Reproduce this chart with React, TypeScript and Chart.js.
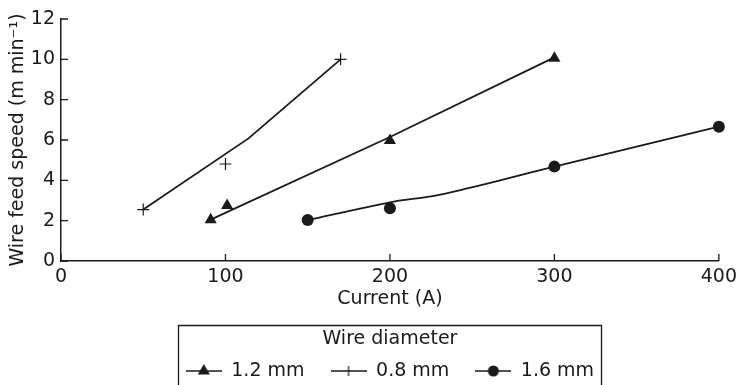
import React, { useEffect, useRef } from 'react';
import { Chart, registerables } from 'chart.js';

Chart.register(...registerables);

// 0.8 mm wire
const w08MarkerX = [50, 100, 170];
const w08MarkerY = [2.55, 4.81, 10.0];
const w08LineX = [50, 114, 170];
const w08LineY = [2.55, 6.08, 10.0];
// 1.2 mm wire
const w12MarkerX = [91, 101, 200, 300];
const w12MarkerY = [2.05, 2.75, 5.98, 10.05];
const w12LineX = [91, 200, 300];
const w12LineY = [2.05, 6.15, 10.1];
// 1.6 mm wire
const w16MarkerX = [150, 200, 300, 400];
const w16MarkerY = [2.03, 2.61, 4.68, 6.66];
const w16LineX = [150, 200, 226, 247, 267, 300, 400];
const w16LineY = [2.03, 2.91, 3.22, 3.6, 4.0, 4.68, 6.66];

const legendLabels = ['1.2 mm', '0.8 mm', '1.6 mm'];
const legendTitle = 'Wire diameter';
const xTitle = 'Current (A)';
const yTitle = 'Wire feed speed (m min\u207B\u00B9)';

const INK = '#1a1a1a';
const FONT = "'DejaVu Sans', sans-serif";

const pts = (xs: number[], ys: number[]) => xs.map((x, i) => ({ x, y: ys[i] }));

function legendSymbol(kind: string): HTMLCanvasElement {
  const c = document.createElement('canvas');
  c.width = 36;
  c.height = 16;
  const g = c.getContext('2d')!;
  g.strokeStyle = INK;
  g.fillStyle = INK;
  g.lineWidth = 1.5;
  g.beginPath();
  g.moveTo(0, 8);
  g.lineTo(36, 8);
  g.stroke();
  if (kind === 'triangle') {
    const r = 7;
    g.beginPath();
    g.moveTo(18, 8 - r);
    g.lineTo(18 + r * Math.sin(Math.PI / 3), 8 + r / 2);
    g.lineTo(18 - r * Math.sin(Math.PI / 3), 8 + r / 2);
    g.closePath();
    g.fill();
  } else if (kind === 'cross') {
    g.lineWidth = 1.2;
    g.beginPath();
    g.moveTo(18, 3);
    g.lineTo(18, 13);
    g.stroke();
  } else {
    g.beginPath();
    g.arc(18, 8, 5.5, 0, Math.PI * 2);
    g.fill();
  }
  return c;
}

const decor = {
  id: 'decor',
  afterDraw(chart: any) {
    const ctx = chart.ctx;
    const xs = chart.scales.x;
    const ys = chart.scales.y;
    const area = chart.chartArea;
    ctx.save();
    ctx.strokeStyle = INK;
    ctx.lineWidth = 1.3;
    ctx.beginPath();
    xs.ticks.forEach((t: any) => {
      const px = xs.getPixelForValue(t.value);
      ctx.moveTo(px, area.bottom);
      ctx.lineTo(px, area.bottom - 7);
    });
    ys.ticks.forEach((t: any) => {
      const py = ys.getPixelForValue(t.value);
      ctx.moveTo(area.left, py);
      ctx.lineTo(area.left + 7, py);
    });
    ctx.stroke();
    const lg = chart.legend;
    const hb = lg && lg.legendHitBoxes;
    if (hb && hb.length) {
      const l = Math.round(hb[0].left - 8) + 0.5;
      const last = hb[hb.length - 1];
      const r = Math.round(last.left + last.width + 7) + 0.5;
      const t = Math.round(lg.top + 1) + 0.5;
      ctx.beginPath();
      ctx.moveTo(l, chart.height + 5);
      ctx.lineTo(l, t);
      ctx.lineTo(r, t);
      ctx.lineTo(r, chart.height + 5);
      ctx.stroke();
    }
    ctx.restore();
  },
};

export default function App() {
  const ref = useRef<HTMLCanvasElement>(null);
  useEffect(() => {
    if (!ref.current) return;
    const symbols = [legendSymbol('triangle'), legendSymbol('cross'), legendSymbol('circle')];
    const lineDs = (xs: number[], ys: number[], label: string) => ({
      type: 'line' as const,
      label,
      data: pts(xs, ys),
      borderColor: INK,
      borderWidth: 1.8,
      pointRadius: 0,
      tension: 0,
      fill: false,
    });
    const markDs = (xs: number[], ys: number[], label: string, style: string, radius: number) => ({
      type: 'line' as const,
      label,
      data: pts(xs, ys),
      showLine: false,
      pointStyle: style,
      pointRadius: radius,
      pointBackgroundColor: INK,
      pointBorderColor: INK,
      pointBorderWidth: style === 'cross' ? 1.2 : 0,
      clip: false,
    });
    const chart = new Chart(ref.current, {
      type: 'line',
      data: {
        datasets: [
          lineDs(w12LineX, w12LineY, '1.2 mm line'),
          lineDs(w08LineX, w08LineY, '0.8 mm line'),
          { ...lineDs(w16LineX, w16LineY, '1.6 mm line'), tension: 0.3 },
          markDs(w12MarkerX, w12MarkerY, '1.2 mm', 'triangle', 7),
          markDs(w08MarkerX, w08MarkerY, '0.8 mm', 'cross', 6),
          markDs(w16MarkerX, w16MarkerY, '1.6 mm', 'circle', 6),
        ] as any,
      },
      options: {
        animation: false,
        responsive: false,
        events: [],
        layout: { padding: { top: 19, right: 23, left: 0, bottom: 0 } },
        scales: {
          x: {
            type: 'linear',
            min: 0,
            max: 400,
            ticks: { stepSize: 100, padding: 5, color: INK, font: { family: FONT, size: 19 } },
            grid: { display: false, drawTicks: false },
            border: { display: true, color: INK, width: 1.5 },
            title: {
              display: true,
              text: xTitle,
              color: INK,
              font: { family: FONT, size: 19 },
              padding: { top: 0, bottom: 13.6 },
            },
            afterFit: (s: any) => {
              s.height = 63;
            },
          },
          y: {
            type: 'linear',
            min: 0,
            max: 12,
            ticks: { stepSize: 2, padding: 6, color: INK, font: { family: FONT, size: 19 } },
            grid: { display: false, drawTicks: false },
            border: { display: true, color: INK, width: 1.5 },
            title: {
              display: true,
              text: yTitle,
              color: INK,
              font: { family: FONT, size: 19 },
              padding: { top: 6.6, bottom: 0 },
            },
            afterFit: (s: any) => {
              s.width = 61;
            },
          },
        },
        plugins: {
          tooltip: { enabled: false },
          legend: {
            display: true,
            position: 'bottom',
            fullSize: false,
            maxHeight: 61,
            title: {
              display: true,
              text: legendTitle,
              color: INK,
              font: { family: FONT, size: 19 },
              padding: { top: 6, bottom: -17.3 },
            },
            labels: {
              usePointStyle: true,
              pointStyleWidth: 36,
              padding: 26,
              color: INK,
              font: { family: FONT, size: 19 },
              generateLabels: () =>
                legendLabels.map((text, i) => ({
                  text,
                  pointStyle: symbols[i] as any,
                  fillStyle: INK,
                  strokeStyle: INK,
                  lineWidth: 0,
                  hidden: false,
                  datasetIndex: i,
                  fontColor: INK,
                })),
            },
          },
        },
      } as any,
      plugins: [decor],
    });
    return () => chart.destroy();
  }, []);
  return (
    <div style={{ position: 'absolute', left: 0, top: 0, width: 742, height: 385, background: '#fff' }}>
      <canvas ref={ref} width={742} height={385} />
    </div>
  );
}
